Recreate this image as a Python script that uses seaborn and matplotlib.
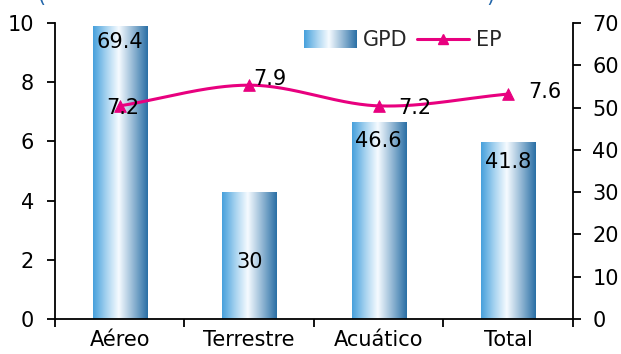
import numpy as np
import pandas as pd
import matplotlib
matplotlib.use("Agg")
import matplotlib.pyplot as plt
import seaborn as sns
from matplotlib.colors import LinearSegmentedColormap
from matplotlib.legend_handler import HandlerBase
from matplotlib.image import BboxImage
from matplotlib.transforms import Bbox, TransformedBbox
from matplotlib.lines import Line2D
from matplotlib.patches import Rectangle

# Data
categories = ["Aéreo", "Terrestre", "Acuático", "Total"]
gpd = [69.4, 30, 46.6, 41.8]      # bars, right axis
ep = [7.2, 7.9, 7.2, 7.6]         # line, left axis

sns.set_theme(style="white")
plt.rcParams["font.family"] = ["DejaVu Sans"]
FS = 15

bar_cmap = LinearSegmentedColormap.from_list(
    "bar", [(0, "#46a0dc"), (0.25, "#a9d4f0"), (0.47, "#f6fbff"), (0.7, "#9fc0da"), (1, "#2a6fa5")])
grad = np.linspace(0, 1, 256).reshape(1, -1)
pink = "#e8007f"

fig = plt.figure(figsize=(6.21, 3.54), dpi=100)
ax = fig.add_axes([0.0886, 0.099, 0.834, 0.836])
ax2 = ax.twinx()

df = pd.DataFrame({"cat": categories, "gpd": gpd, "ep": ep})

# bars on the right axis, drawn with seaborn then filled with a gradient
sns.barplot(data=df, x="cat", y="gpd", ax=ax2, width=0.42, color="#7fb8e0", linewidth=0)
for p in ax2.patches:
    x0, y0, w, h = p.get_x(), p.get_y(), p.get_width(), p.get_height()
    im = ax2.imshow(grad, cmap=bar_cmap, aspect="auto", extent=[x0, x0 + w, y0, y0 + h], zorder=2)
    im.set_clip_path(p)
    p.set_alpha(0)

ax2.set_ylim(0, 70)
ax2.set_yticks(range(0, 71, 10))

# bar value labels
bar_label_y = [65.5, 13.5, 42.0, 37.2]
for i, v in enumerate(gpd):
    ax2.text(i, bar_label_y[i], f"{v:g}", ha="center", va="center", fontsize=FS, color="black", zorder=5)

# EP line on the left axis (smooth curve through the points)
xs = np.arange(len(ep))
t = np.linspace(0, len(ep) - 1, 200)
pts = np.array(ep, dtype=float)
ext = np.concatenate([[2 * pts[0] - pts[1]], pts, [2 * pts[-1] - pts[-2]]])
seg = np.minimum(t.astype(int), len(ep) - 2)
u = t - seg
p0, p1, p2, p3 = ext[seg], ext[seg + 1], ext[seg + 2], ext[seg + 3]
smooth = 0.5 * ((2 * p1) + (-p0 + p2) * u + (2 * p0 - 5 * p1 + 4 * p2 - p3) * u ** 2
                + (-p0 + 3 * p1 - 3 * p2 + p3) * u ** 3)
ax.plot(t, smooth, color=pink, lw=2.2, zorder=3)
sns.scatterplot(x=xs, y=ep, ax=ax, marker="^", s=70, color=pink, edgecolor=pink, zorder=4, legend=False)

ep_offsets = [(3, -2, "center"), (4, 6, "left"), (20, -2, "left"), (20, 2, "left")]
for i, v in enumerate(ep):
    dx, dy, ha = ep_offsets[i]
    ax.annotate(f"{v:g}", (i, v), xytext=(dx * 0.72, dy * 0.72), textcoords="offset points",
                ha=ha, va="center", fontsize=FS, color="black", zorder=6)

ax.set_xlim(-0.5, 3.5)
ax.set_ylim(0, 10)
ax.set_yticks(range(0, 11, 2))
ax.set_zorder(ax2.get_zorder() + 1)
ax.patch.set_visible(False)

# axes styling
for a in (ax, ax2):
    for s in a.spines.values():
        s.set_visible(False)
    a.set_xlabel("")
    a.set_ylabel("")
    a.grid(False)
ax.spines["left"].set_visible(True)
ax.spines["bottom"].set_visible(True)
ax2.spines["right"].set_visible(True)
for s in (ax.spines["left"], ax.spines["bottom"], ax2.spines["right"]):
    s.set_color("black")
    s.set_linewidth(1.3)

ax.set_xticks([0, 1, 2, 3])
ax.set_xticklabels(categories, fontsize=FS)
ax.set_xticks([-0.5, 0.5, 1.5, 2.5, 3.5], minor=True)
ax.tick_params(axis="x", which="major", length=0, pad=8, labelcolor="black")
ax.tick_params(axis="x", which="minor", length=6, width=1.3, direction="out", color="black", bottom=True)
ax.tick_params(axis="y", length=6, width=1.3, direction="out", color="black", labelsize=FS, pad=9,
               left=True, labelcolor="black")
ax2.tick_params(axis="y", length=6, width=1.3, direction="out", color="black", labelsize=FS, pad=8,
                right=True, labelcolor="black")

# legend with a gradient swatch
class GradHandler(HandlerBase):
    def create_artists(self, legend, orig_handle, xdescent, ydescent, width, height, fontsize, trans):
        bb = TransformedBbox(Bbox.from_bounds(-xdescent, -ydescent - 1, width, height + 2), trans)
        img = BboxImage(bb, cmap=bar_cmap, interpolation="bilinear")
        img.set_data(grad)
        return [img]

handles = [Rectangle((0, 0), 1, 1), Line2D([], [], color=pink, lw=2.2, marker="^", markersize=7)]
ax.legend(handles, ["GPD", "EP"], handler_map={Rectangle: GradHandler()}, ncol=2, frameon=False,
          loc="upper left", bbox_to_anchor=(0.456, 1.018), fontsize=FS, handlelength=2.5,
          columnspacing=0.45, handletextpad=0.35, borderaxespad=0.2)

# clipped title fragments at the very top
fig.text(0.066, 1.012, "(", color="#2266aa", fontsize=FS, ha="center", va="center")
fig.text(0.79, 1.012, ")", color="#2266aa", fontsize=FS, ha="center", va="center")

fig.savefig("out.png", dpi=100)
